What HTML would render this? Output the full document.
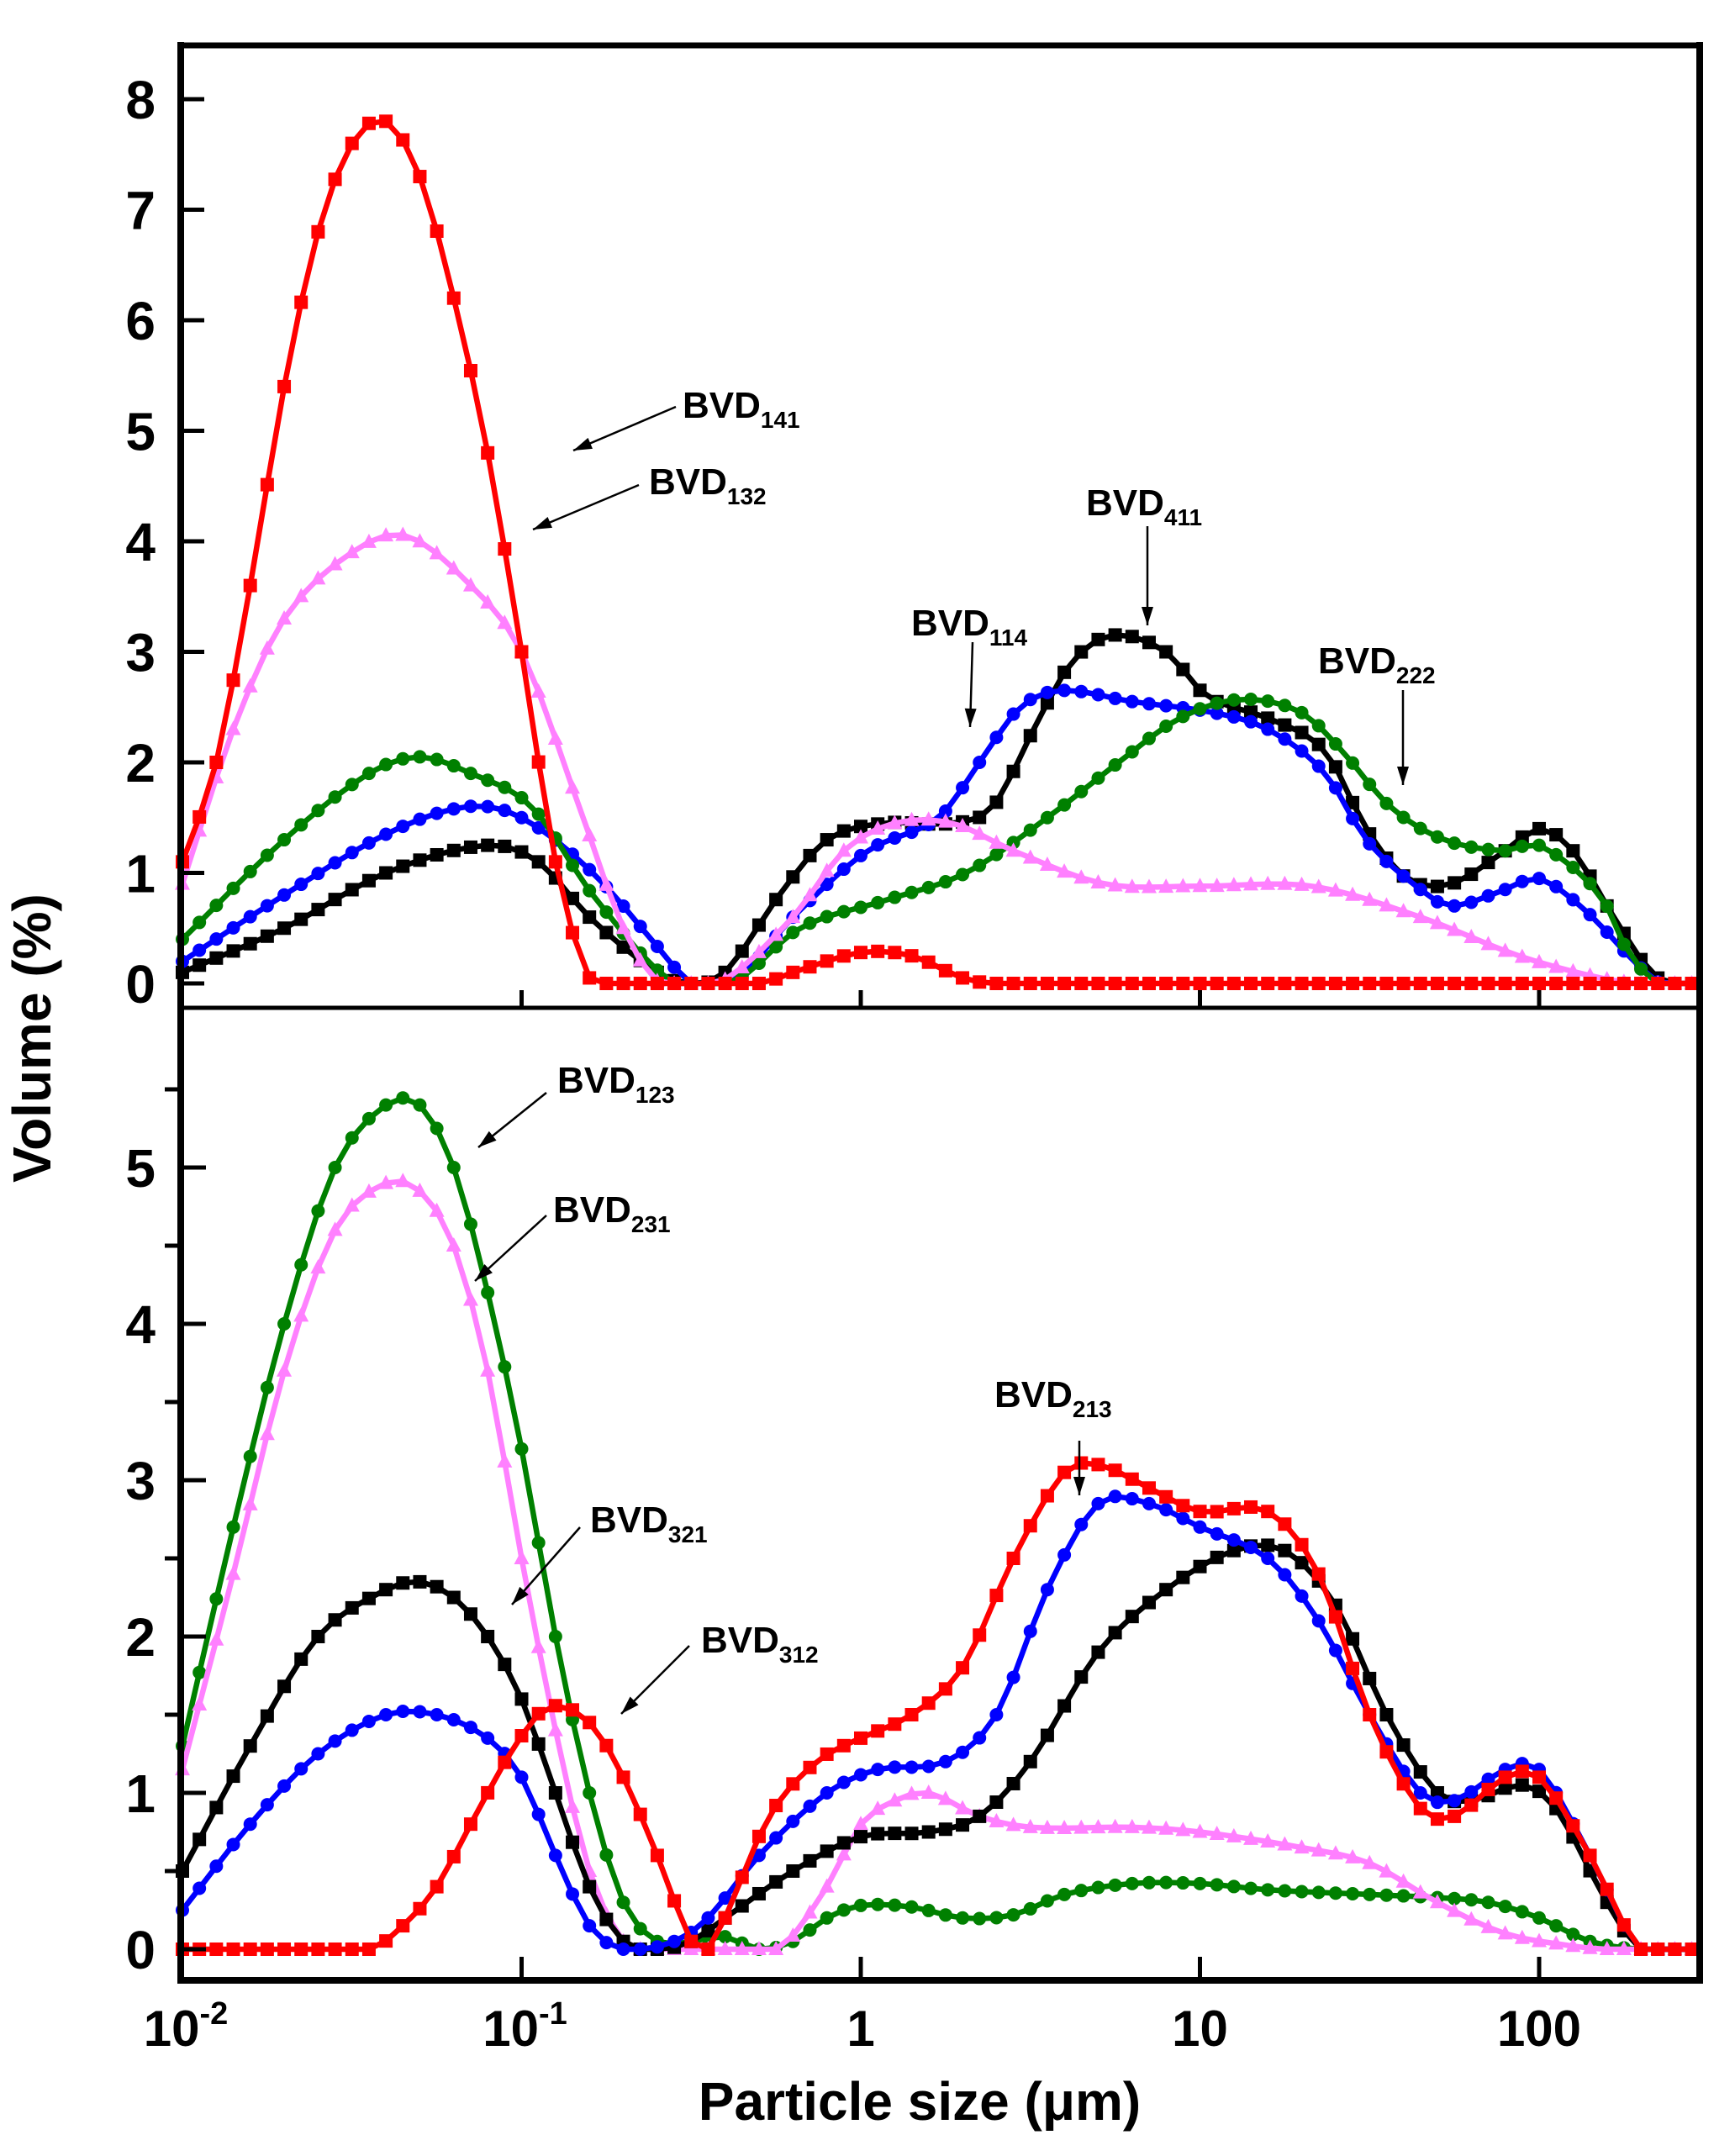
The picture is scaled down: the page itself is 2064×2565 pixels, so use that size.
<!DOCTYPE html>
<html><head><meta charset="utf-8"><style>
html,body{margin:0;padding:0;background:#fff;}
svg{display:block;}
text{font-family:"Liberation Sans",sans-serif;font-weight:bold;fill:#000;}
</style></head><body>
<svg id="s" width="2064" height="2565" viewBox="0 0 2064 2565" xmlns="http://www.w3.org/2000/svg">
<rect width="2064" height="2565" fill="#fff"/>
<g id="curves"></g>
<g id="axes" stroke="#000" fill="none">
<line x1="215" y1="54" x2="2022" y2="54" stroke-width="7"/>
<line x1="215" y1="50" x2="215" y2="2360" stroke-width="8"/>
<line x1="2022" y1="50" x2="2022" y2="2360" stroke-width="8"/>
<line x1="211" y1="1199" x2="2026" y2="1199" stroke-width="5"/>
<line x1="211" y1="2356" x2="2026" y2="2356" stroke-width="8"/>
</g>
<g id="ticks" stroke="#000" stroke-width="5"></g>
<g id="labels"></g>
<g font-size="62">
<text x="60" y="1235" text-anchor="middle" transform="rotate(-90 60 1235)" font-size="64">Volume (%)</text>
<text x="1094" y="2522" text-anchor="middle" font-size="64">Particle size (μm)</text>
</g>
<g id="ann" stroke="#000" stroke-width="2.5"></g>
</svg>
<script>
const NS="http://www.w3.org/2000/svg";
function el(p,t,a,txt){const e=document.createElementNS(NS,t);for(const k in a)e.setAttribute(k,a[k]);if(txt!==undefined)e.textContent=txt;p.appendChild(e);return e;}
const X=L=>217+(L+2)*403.5;
const YT=v=>1170-v*131.5, YB=v=>2319-v*186;
function interp(cp,L){
 if(L<=cp[0][0])return cp[0][1];
 for(let i=0;i<cp.length-1;i++){
  if(L<=cp[i+1][0]){
   const p0=cp[Math.max(0,i-1)],p1=cp[i],p2=cp[i+1],p3=cp[Math.min(cp.length-1,i+2)];
   const t=(L-p1[0])/(p2[0]-p1[0]);
   const m1=(p2[1]-p0[1])/2*((p2[0]-p1[0])/((p2[0]-p0[0])/2||1));
   const m2=(p3[1]-p1[1])/2*((p2[0]-p1[0])/((p3[0]-p1[0])/2||1));
   const t2=t*t,t3=t2*t;
   let v=(2*t3-3*t2+1)*p1[1]+(t3-2*t2+t)*m1+(-2*t3+3*t2)*p2[1]+(t3-t2)*m2;
   return Math.max(0,v);
  }
 }
 return cp[cp.length-1][1];
}
const g=document.getElementById('curves');
function series(cp,Y,color,shape){
 const pts=[];
 for(let L=-2;L<=2.47;L+=0.05){pts.push([X(L),Y(interp(cp,L))]);}
 el(g,'polyline',{points:pts.map(p=>p[0].toFixed(1)+','+p[1].toFixed(1)).join(' '),fill:'none',stroke:color,'stroke-width':6.5,'stroke-linejoin':'round'});
 for(const [x,y] of pts){
  if(shape==='sq')el(g,'rect',{x:x-8,y:y-8,width:16,height:16,fill:color});
  else if(shape==='c')el(g,'circle',{cx:x,cy:y,r:8,fill:color});
  else el(g,'polygon',{points:`${x},${y-10} ${x-9},${y+7} ${x+9},${y+7}`,fill:color});
 }
}
const R='#ff0000',K='#000000',B='#0000ff',G='#008000',P='#ff80ff';
// top panel
series([[-2,0.1],[-1.7,0.5],[-1.4,1.0],[-1.1,1.25],[-0.95,1.1],[-0.8,0.6],[-0.6,0.1],[-0.5,0],[-0.4,0.1],[-0.24,0.8],[-0.1,1.3],[0.07,1.45],[0.27,1.45],[0.39,1.6],[0.51,2.3],[0.62,2.9],[0.74,3.15],[0.9,3.0],[1.02,2.6],[1.2,2.4],[1.37,2.1],[1.49,1.4],[1.61,0.95],[1.74,0.9],[1.9,1.2],[2.0,1.4],[2.1,1.2],[2.22,0.6],[2.33,0.1],[2.4,0],[2.48,0]],YT,K,'sq');
series([[-2,0.2],[-1.7,0.8],[-1.4,1.35],[-1.16,1.6],[-1.0,1.5],[-0.79,1.0],[-0.59,0.3],[-0.5,0],[-0.38,0],[-0.2,0.6],[0.02,1.2],[0.23,1.5],[0.35,2.0],[0.47,2.5],[0.59,2.65],[0.8,2.55],[1.04,2.45],[1.2,2.3],[1.37,1.9],[1.49,1.3],[1.65,0.85],[1.74,0.7],[1.9,0.85],[2.0,0.95],[2.14,0.65],[2.28,0.2],[2.36,0],[2.48,0]],YT,B,'c');
series([[-2,0.4],[-1.7,1.3],[-1.45,1.9],[-1.3,2.05],[-1.15,1.9],[-0.97,1.6],[-0.79,0.8],[-0.55,0],[-0.38,0],[-0.18,0.5],[0.07,0.75],[0.31,1.0],[0.55,1.5],[0.76,2.0],[0.94,2.4],[1.12,2.57],[1.3,2.45],[1.42,2.1],[1.56,1.6],[1.72,1.3],[1.9,1.2],[2.0,1.25],[2.18,0.8],[2.26,0.3],[2.35,0],[2.48,0]],YT,G,'c');
series([[-2,0.9],[-1.85,2.3],[-1.7,3.3],[-1.5,3.9],[-1.34,4.05],[-1.15,3.6],[-1.0,3.0],[-0.83,1.6],[-0.7,0.5],[-0.59,0],[-0.42,0],[-0.2,0.6],[-0.05,1.2],[0.1,1.45],[0.27,1.45],[0.45,1.2],[0.72,0.9],[1.0,0.88],[1.33,0.88],[1.65,0.6],[1.94,0.25],[2.18,0.05],[2.3,0],[2.48,0]],YT,P,'t');
series([[-2,1.1],[-1.9,2.0],[-1.8,3.6],[-1.7,5.4],[-1.6,6.8],[-1.5,7.6],[-1.4,7.8],[-1.3,7.3],[-1.2,6.2],[-1.1,4.8],[-1.0,3.0],[-0.9,1.1],[-0.8,0.05],[-0.7,0],[-0.3,0],[-0.2,0.1],[0,0.28],[0.15,0.25],[0.3,0.05],[0.4,0],[2.48,0]],YT,R,'sq');
// bottom panel
series([[-2,1.3],[-1.85,2.7],[-1.7,4.0],[-1.55,5.0],[-1.4,5.4],[-1.3,5.4],[-1.2,5.0],[-1.1,4.2],[-1.0,3.2],[-0.9,2.0],[-0.8,1.0],[-0.7,0.3],[-0.6,0.05],[-0.5,0.05],[-0.4,0.08],[-0.3,0],[-0.2,0.05],[-0.1,0.2],[0,0.28],[0.15,0.27],[0.3,0.2],[0.45,0.22],[0.6,0.35],[0.8,0.42],[1.0,0.42],[1.2,0.38],[1.5,0.35],[1.7,0.33],[1.85,0.3],[2.0,0.2],[2.15,0.05],[2.3,0],[2.48,0]],YB,G,'c');
series([[-2,1.15],[-1.85,2.4],[-1.7,3.7],[-1.55,4.6],[-1.4,4.9],[-1.3,4.85],[-1.2,4.5],[-1.1,3.7],[-1.0,2.5],[-0.9,1.4],[-0.8,0.5],[-0.7,0.05],[-0.6,0],[-0.25,0],[-0.1,0.4],[0,0.8],[0.1,0.95],[0.2,1.0],[0.35,0.85],[0.5,0.78],[0.8,0.78],[1.0,0.75],[1.3,0.65],[1.5,0.55],[1.7,0.3],[1.9,0.1],[2.1,0.02],[2.2,0],[2.48,0]],YB,P,'t');
series([[-2,0.5],[-1.8,1.3],[-1.6,2.0],[-1.4,2.3],[-1.3,2.35],[-1.2,2.25],[-1.1,2.0],[-1.0,1.6],[-0.9,1.0],[-0.8,0.4],[-0.7,0.05],[-0.6,0],[-0.5,0.05],[-0.4,0.2],[-0.2,0.5],[0,0.72],[0.2,0.75],[0.35,0.85],[0.5,1.2],[0.7,1.9],[0.9,2.3],[1.1,2.55],[1.25,2.55],[1.4,2.2],[1.55,1.5],[1.7,1.0],[1.8,0.95],[1.95,1.05],[2.05,0.9],[2.2,0.3],[2.3,0],[2.48,0]],YB,K,'sq');
series([[-2,0.25],[-1.8,0.8],[-1.6,1.25],[-1.4,1.5],[-1.25,1.5],[-1.1,1.35],[-1.0,1.1],[-0.9,0.6],[-0.8,0.15],[-0.7,0],[-0.55,0.05],[-0.45,0.2],[-0.3,0.6],[-0.1,1.0],[0.05,1.15],[0.25,1.2],[0.4,1.5],[0.55,2.3],[0.7,2.85],[0.85,2.85],[1.0,2.7],[1.2,2.5],[1.35,2.1],[1.5,1.5],[1.65,1.0],[1.75,0.95],[1.9,1.15],[2.0,1.15],[2.15,0.6],[2.3,0],[2.48,0]],YB,B,'c');
series([[-2,0],[-1.45,0],[-1.35,0.15],[-1.25,0.4],[-1.15,0.8],[-1.02,1.3],[-0.92,1.55],[-0.8,1.45],[-0.7,1.1],[-0.6,0.6],[-0.5,0.05],[-0.45,0],[-0.4,0.2],[-0.27,0.85],[-0.13,1.2],[0,1.35],[0.15,1.5],[0.3,1.8],[0.45,2.5],[0.6,3.05],[0.7,3.1],[0.85,2.95],[1.0,2.8],[1.2,2.8],[1.35,2.4],[1.5,1.5],[1.65,0.9],[1.75,0.85],[1.9,1.1],[2.0,1.1],[2.15,0.6],[2.3,0],[2.48,0]],YB,R,'sq');
// ticks & labels
const tk=document.getElementById('ticks'),lb=document.getElementById('labels');
for(let v=0;v<=8;v++){const y=YT(v);el(tk,'line',{x1:215,y1:y,x2:243,y2:y});el(lb,'text',{x:185,y:y+23,'font-size':64,'text-anchor':'end'},String(v));}
for(let v=0;v<=5.5;v+=0.5){const y=YB(v);
 if(v%1===0){el(tk,'line',{x1:215,y1:y,x2:245,y2:y});el(lb,'text',{x:185,y:y+23,'font-size':64,'text-anchor':'end'},String(v));}
 else el(tk,'line',{x1:196,y1:y,x2:215,y2:y});}
for(let d=1;d<=4;d++){const x=X(d-2);el(tk,'line',{x1:x,y1:2356,x2:x,y2:2328});el(tk,'line',{x1:x,y1:1199,x2:x,y2:1178});}
const xl=[['10','-2'],['10','-1'],['1'],['10'],['100']];
xl.forEach((l,i)=>{const x=X(i-2);
 if(l.length===2){const t=el(lb,'text',{x:x+4,y:2434,'font-size':60,'text-anchor':'middle'});
  t.appendChild(document.createTextNode('10'));el(t,'tspan',{'font-size':38,dy:-26},l[1]);}
 else el(lb,'text',{x:x,y:2434,'font-size':60,'text-anchor':'middle'},l[0]);});
// annotations
const an=document.getElementById('ann');
function lab(x,y,sub){const t=el(an,'text',{x:x,y:y,'font-size':44,stroke:'none'});t.appendChild(document.createTextNode('BVD'));el(t,'tspan',{'font-size':28,dy:12},sub);}
function arr(x1,y1,x2,y2){el(an,'line',{x1:x1,y1:y1,x2:x2,y2:y2});
 const a=Math.atan2(y2-y1,x2-x1),L=22,w=7;
 const bx=x2-L*Math.cos(a),by=y2-L*Math.sin(a);
 el(an,'polygon',{points:`${x2},${y2} ${bx+w*Math.sin(a)},${by-w*Math.cos(a)} ${bx-w*Math.sin(a)},${by+w*Math.cos(a)}`,fill:'#000',stroke:'none'});}
lab(812,497,'141');arr(804,484,682,536);
lab(772,588,'132');arr(760,577,634,630);
lab(1292,613,'411');arr(1365,626,1365,744);
lab(1084,756,'114');arr(1157,764,1154,865);
lab(1568,801,'222');arr(1669,821,1669,934);
lab(663,1300,'123');arr(650,1300,569,1365);
lab(658,1454,'231');arr(650,1446,565,1524);
lab(702,1823,'321');arr(690,1817,609,1909);
lab(834,1966,'312');arr(820,1958,739,2039);
lab(1183,1674,'213');arr(1284,1714,1284,1779);
</script>
</body></html>
